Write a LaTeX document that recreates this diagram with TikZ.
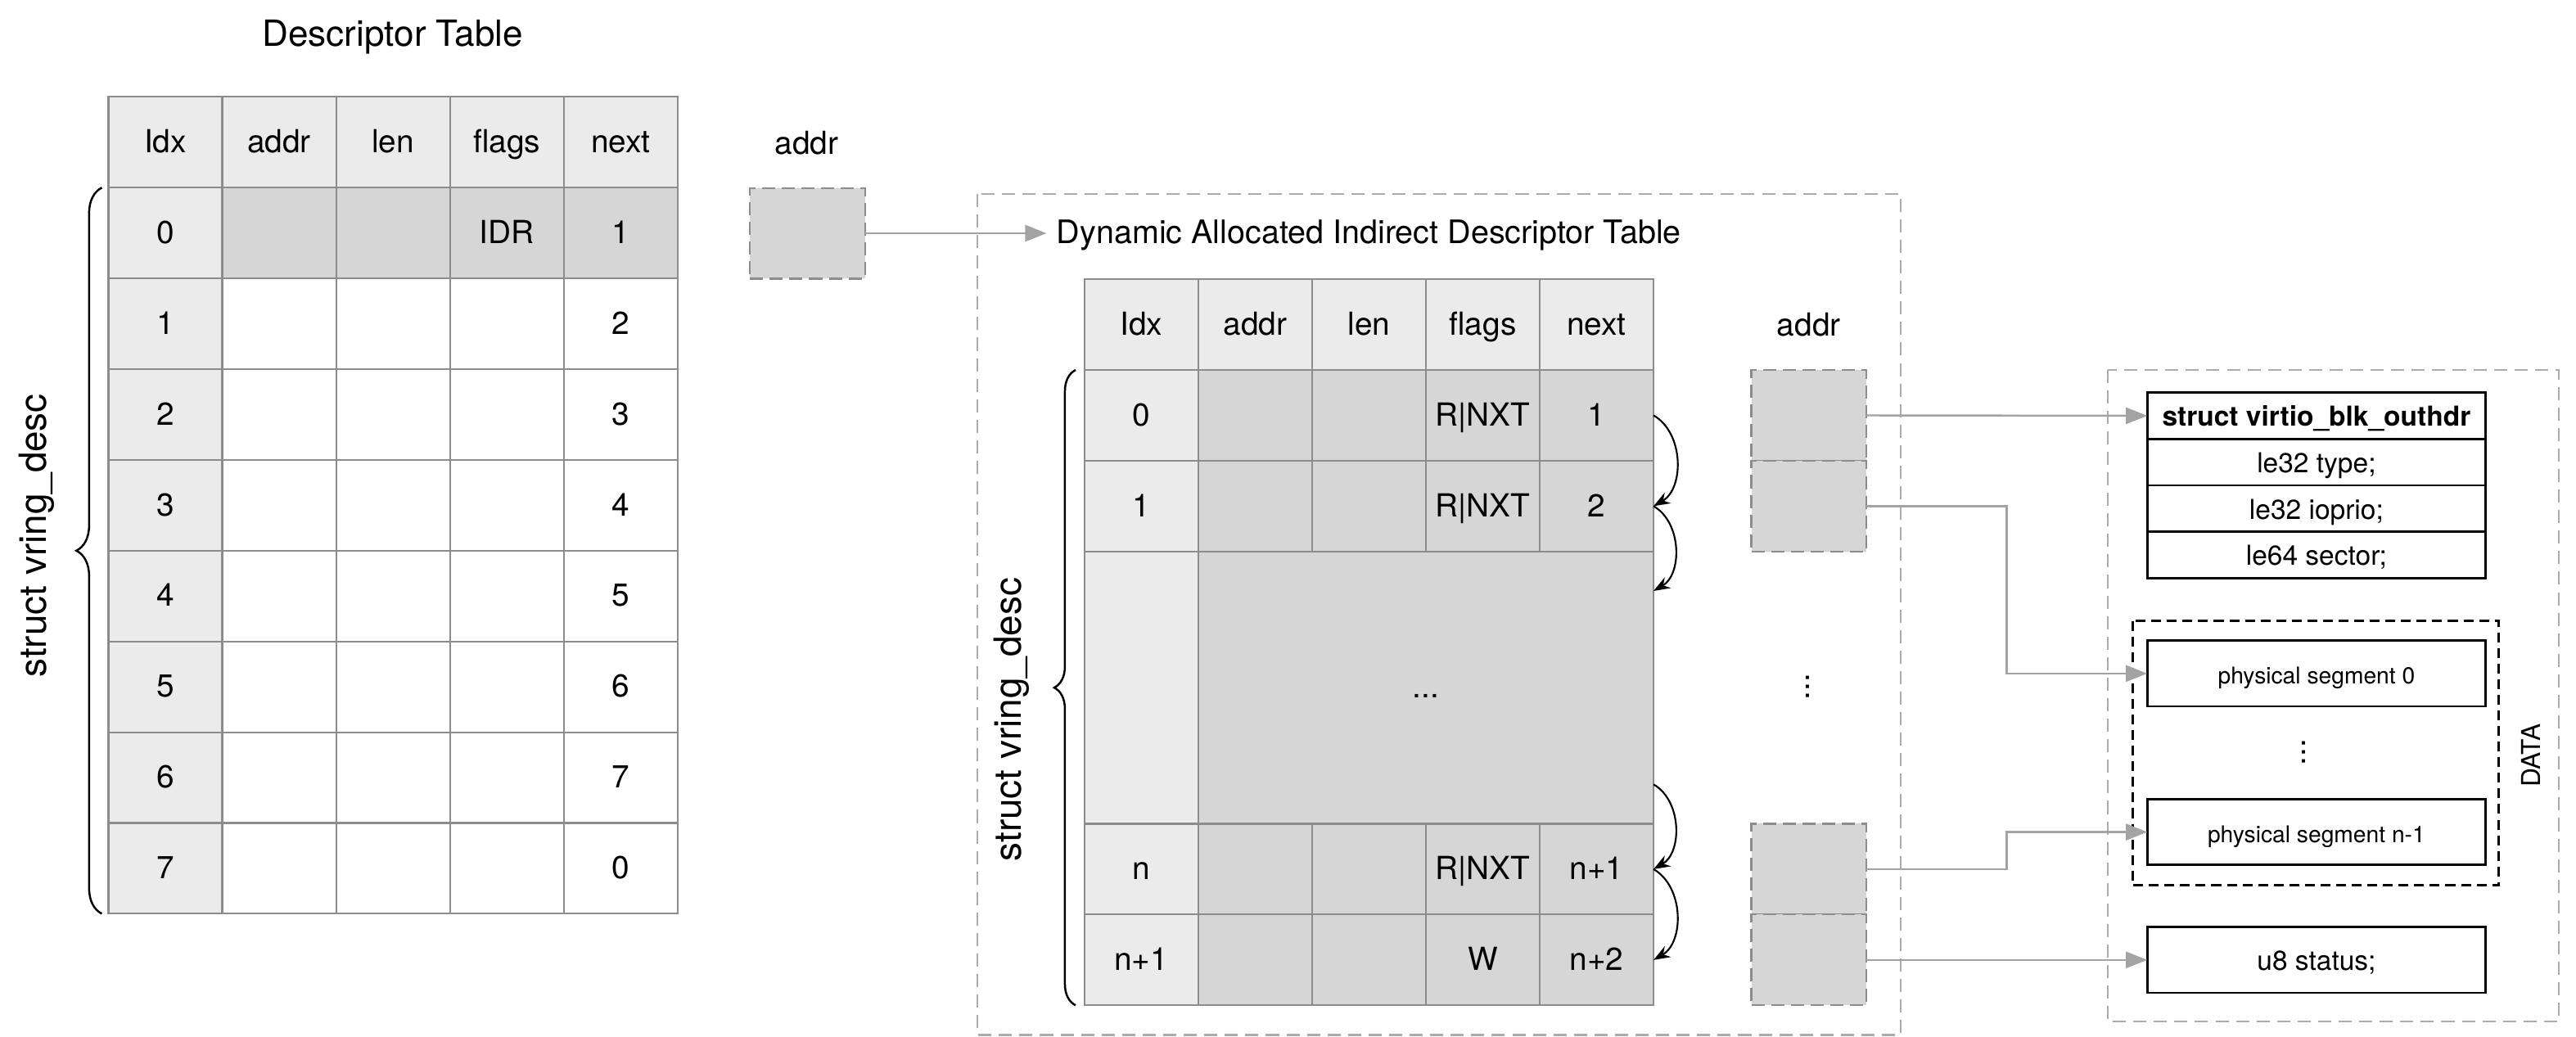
\documentclass[tikz,border=0pt]{standalone}
\usepackage{fontspec}
\setmainfont{TeX Gyre Heros}
\usetikzlibrary{arrows.meta}
\usetikzlibrary{calc}
\usetikzlibrary{decorations.pathreplacing}
\usetikzlibrary{positioning}
\definecolor{hdrgray}{HTML}{EBEBEB}
\definecolor{cellgray}{HTML}{D6D6D6}
\definecolor{linegray}{HTML}{8C8C8C}
\definecolor{dashgray}{HTML}{ABABAB}
\definecolor{arrowgray}{HTML}{A3A3A3}
\newcommand{\fs}[1]{\fontsize{#1}{#1}\selectfont}
\tikzset{cell/.style={draw=linegray,line width=0.6pt,minimum width=13.86mm,minimum height=11.05mm,
    inner sep=0pt,outer sep=0pt,text height=0.72em,text depth=0pt,font=\fs{11}}}
\tikzset{hcell/.style={cell,fill=hdrgray}}
\tikzset{dcell/.style={cell,fill=cellgray}}
\tikzset{lbl/.style={text height=0.72em,text depth=0pt,font=\fs{11}}}
\tikzset{addrbox/.style={draw=linegray,fill=cellgray,line width=0.6pt,dash pattern=on 1.6mm off 0.8mm,
    minimum width=14mm,minimum height=11.05mm,inner sep=0pt,outer sep=0pt}}
\tikzset{field/.style={draw=black,line width=0.8pt,minimum width=41.2mm,minimum height=5.65mm,
    inner sep=0pt,outer sep=0pt,text height=0.72em,text depth=0pt,font=\fs{9.5}}}
\tikzset{group/.style={draw=dashgray,line width=0.6pt,dash pattern=on 1.6mm off 0.9mm}}
\tikzset{brace/.style={decorate,decoration={brace,amplitude=3mm},line width=0.7pt}}
\tikzset{arrow/.style={-{Stealth[length=2mm,width=1.5mm]},line width=0.6pt}}
\tikzset{garrow/.style={-{Triangle[length=2.6mm,width=2mm]},draw=arrowgray,line width=0.7pt}}

\begin{document}
\begin{tikzpicture}[x=0.2mm,y=0.2mm]
    \useasboundingbox (0,0) rectangle (1568,-631);

    % descriptor table
    \node[lbl,font=\fs{12.5}] (dtt) at (239,-22) {Descriptor Table};
    \foreach \t [count=\c from 0] in {Idx,addr,len,flags,next}
        \node[hcell] (dh\c) at (100.65+69.3*\c,-86.6) {\t};
    \node[hcell] (d0-i) at (100.65,-141.85) {0};
    \node[dcell] (d0-a) at (169.95,-141.85) {};
    \node[dcell] (d0-l) at (239.25,-141.85) {};
    \node[dcell] (d0-f) at (308.55,-141.85) {IDR};
    \node[dcell] (d0-n) at (377.85,-141.85) {1};
    \foreach \r/\n in {1/2,2/3,3/4,4/5,5/6,6/7,7/0} {
        \node[hcell] (d\r-i) at (100.65,-141.85-55.25*\r) {\r};
        \node[cell] (d\r-a) at (169.95,-141.85-55.25*\r) {};
        \node[cell] (d\r-l) at (239.25,-141.85-55.25*\r) {};
        \node[cell] (d\r-f) at (308.55,-141.85-55.25*\r) {};
        \node[cell] (d\r-n) at (377.85,-141.85-55.25*\r) {\n};
    }
    \draw[brace,decoration={amplitude=3.1mm}] ([xshift=-0.8mm]d7-i.south west) -- ([xshift=-0.8mm]d0-i.north west);
    \node[lbl,rotate=90,font=\fs{13}] (dsd) at (22,-326) {struct vring\_desc};

    % indirect table pointer
    \node[lbl] (la) at (491,-87.5) {addr};
    \node[addrbox] (a) at (491.5,-142) {};
    \node[lbl,anchor=west,font=\fs{11.2}] (dyn) at (637,-142) {Dynamic Allocated Indirect Descriptor Table};
    \draw[garrow] (a) -- (dyn);
    \draw[group] (595,-118) rectangle (1157,-630);

    % indirect table
    \foreach \t [count=\c from 0] in {Idx,addr,len,flags,next}
        \node[hcell] (ih\c) at (694.65+69.3*\c,-197.6) {\t};
    \foreach \r/\y/\i/\f/\n in {0/252.85/0/R|NXT/1,1/308.1/1/R|NXT/2,n/529.1/n/R|NXT/n+1,m/584.35/n+1/W/n+2} {
        \node[hcell] (t\r-i) at (694.65,-\y) {\i};
        \node[dcell] (t\r-a) at (763.95,-\y) {};
        \node[dcell] (t\r-l) at (833.25,-\y) {};
        \node[dcell] (t\r-f) at (902.55,-\y) {\f};
        \node[dcell] (t\r-n) at (971.85,-\y) {\n};
    }
    \node[hcell,minimum height=33.15mm] (tb-i) at (694.65,-418.6) {};
    \node[dcell,minimum width=55.44mm,minimum height=33.15mm] (tb) at (867.9,-418.6) {...};
    \draw[brace,decoration={amplitude=2.6mm}] ([xshift=-1.06mm]tm-i.south west) -- ([xshift=-1.06mm]t0-i.north west);
    \node[lbl,rotate=90,font=\fs{13}] (isd) at (615,-438) {struct vring\_desc};

    \draw[arrow] (t0-n.east) to[out=-30,in=30] (t1-n.east);
    \draw[arrow] (t1-n.east) to[out=-30,in=30] ([yshift=-4.8mm]tb.north east);
    \draw[arrow] ([yshift=4.8mm]tb.south east) to[out=-30,in=30] (tn-n.east);
    \draw[arrow] (tn-n.east) to[out=-30,in=30] (tm-n.east);

    % buffer addresses
    \node[lbl] (ma) at (1101,-198) {addr};
    \node[addrbox] (m0) at (1101,-252.85) {};
    \node[addrbox] (m1) at (1101,-308.1) {};
    \node[lbl,rotate=90] (md) at (1095,-418) {...};
    \node[addrbox] (mn) at (1101,-529.1) {};
    \node[addrbox] (mm) at (1101,-584.35) {};

    % request layout
    \draw[group] (1283,-225) rectangle (1557.5,-622);
    \node[field,font=\bfseries\fs{9.5}] (s0) at (1410,-253.1) {struct virtio\_blk\_outhdr};
    \node[field,below=0pt of s0] (s1) {le32 type;};
    \node[field,below=0pt of s1] (s2) {le32 ioprio;};
    \node[field,below=0pt of s2] (s3) {le64 sector;};
    \draw[line width=0.8pt,dash pattern=on 1.2mm off 0.7mm] (1298,-378) rectangle (1521,-539);
    \node[field,minimum height=8mm,font=\fs{8}] (p0) at (1410,-410) {physical segment 0};
    \node[lbl,rotate=90] (pd) at (1397,-458) {...};
    \node[field,minimum height=8mm,font=\fs{8}] (pn) at (1410,-506.5) {physical segment n-1};
    \node[lbl,rotate=90,font=\fs{9}] (dl) at (1540,-460) {DATA};
    \node[field,minimum height=8mm] (u8) at (1410,-584.35) {u8 status;};

    \draw[garrow] (m0.east) -- (s0.west);
    \draw[garrow] (m1.east) -| ($(m1.east)!0.5!(p0.west)$) |- (p0.west);
    \draw[garrow] (mn.east) -| ($(mn.east)!0.5!(pn.west)$) |- (pn.west);
    \draw[garrow] (mm.east) -- (u8.west);
\end{tikzpicture}
\end{document}
